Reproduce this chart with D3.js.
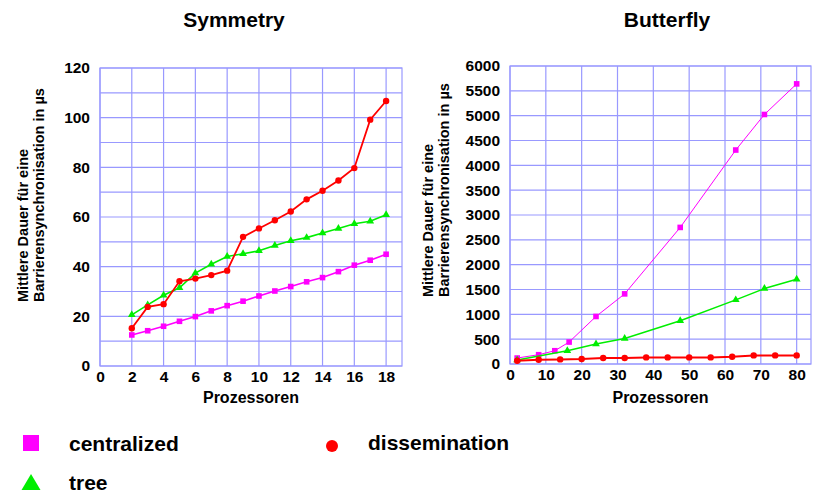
<!DOCTYPE html>
<html><head><meta charset="utf-8">
<script src="https://cdn.jsdelivr.net/npm/d3@7"></script>
<style>body{margin:0;background:#fff}svg{display:block}text{font-family:"Liberation Sans",Arial,sans-serif;font-weight:bold;fill:#000}</style>
</head><body>
<svg id="c" width="814" height="497"></svg>
<script>
// Symmetry data (x = processors)
const symX = [2,3,4,5,6,7,8,9,10,11,12,13,14,15,16,17,18];
const symCentralized = [12.5,14.2,16,18,19.9,22.2,24.3,26.1,28.2,30.2,32,33.9,35.6,38,40.6,42.6,45];
const symTree = [20.6,24.6,28.5,31.5,37.4,41,44.1,45.2,46.4,48.5,50.4,51.7,53.6,55.4,57.3,58.3,60.9];
const symDissemination = [15.2,23.8,24.9,34.1,35.2,36.6,38.4,52,55.4,58.7,62.2,67.1,70.6,74.7,79.7,99.2,106.7];
// Butterfly data
const bfCentralizedX = [2,8,12.5,16.5,24,32,47.5,63,71,80];
const bfCentralized = [120,187,267,442,957,1412,2750,4308,5024,5640];
const bfTreeX = [2,16,24,32,47.5,63,71,80];
const bfTree = [80,268,402,515,870,1291,1519,1706];
const bfDissX = [2,8,14,20,26,32,38,44,50,56,62,68,74,80];
const bfDiss = [66,86,93,100,120,120,133,133,133,133,147,173,173,173];
// ticks
const symXTicks = [0,2,4,6,8,10,12,14,16,18];
const symYTicks = [0,20,40,60,80,100,120];
const bfXTicks = [0,10,20,30,40,50,60,70,80];
const bfYTicks = [0,500,1000,1500,2000,2500,3000,3500,4000,4500,5000,5500,6000];

const svg = d3.select("#c");
const grid = "#9999ff";
const colors = {c:"#ff00ff", t:"#00ee00", d:"#ff0000"};
const FONT = "Liberation Sans, Arial, sans-serif";

function panel(o){
  const g = svg.append("g");
  const x = d3.scaleLinear().domain(o.xd).range([o.x0,o.x1]);
  const y = d3.scaleLinear().domain(o.yd).range([o.y1,o.y0]);
  g.selectAll(".vg").data(o.xGrid).join("line")
    .attr("x1",d=>x(d)).attr("x2",d=>x(d)).attr("y1",o.y0).attr("y2",o.y1)
    .attr("stroke",grid).attr("stroke-width",1.2);
  g.selectAll(".hg").data(o.yGrid).join("line")
    .attr("x1",o.x0).attr("x2",o.x1).attr("y1",d=>y(d)).attr("y2",d=>y(d))
    .attr("stroke",grid).attr("stroke-width",1.2);
  g.append("rect").attr("x",o.x0).attr("y",o.y0).attr("width",o.x1-o.x0).attr("height",o.y1-o.y0)
    .attr("fill","none").attr("stroke",grid).attr("stroke-width",1.2);
  const ax = g.append("g").attr("transform",`translate(0,${o.y1})`)
    .call(d3.axisBottom(x).tickValues(o.xTicks).tickSize(0).tickPadding(5).tickFormat(d3.format("d")));
  ax.select(".domain").remove();
  ax.selectAll("text").attr("font-size",15.5).attr("font-weight","bold").attr("fill","#000")
    .attr("font-family",FONT).attr("dy","0.71em");
  const ay = g.append("g").attr("transform",`translate(${o.x0},0)`)
    .call(d3.axisLeft(y).tickValues(o.yTicks).tickSize(0).tickPadding(o.yPad).tickFormat(d3.format("d")));
  ay.select(".domain").remove();
  ay.selectAll("text").attr("font-size",15.5).attr("font-weight","bold").attr("fill","#000")
    .attr("font-family",FONT);
  g.append("text").attr("x",o.titleX).attr("y",27).attr("text-anchor","middle").attr("font-size",21).text(o.title);
  g.append("text").attr("x",(o.x0+o.x1)/2).attr("y",403).attr("text-anchor","middle").attr("font-size",16).text("Prozessoren");
  const yl = g.append("text").attr("transform",`translate(${o.ylX},${o.ylY}) rotate(-90)`).attr("font-size",14.5);
  yl.append("tspan").attr("x",0).attr("dy",0).text("Mittlere Dauer für eine");
  yl.append("tspan").attr("x",0).attr("dy",16).text("Barrierensynchronisation in µs");
  const line = d3.line().x(d=>x(d[0])).y(d=>y(d[1]));
  o.series.forEach(s=>{
    const pts = s.xs.map((v,i)=>[v,s.ys[i]]);
    g.append("path").datum(pts).attr("d",line).attr("fill","none").attr("stroke",colors[s.k]).attr("stroke-width",s.w);
    const m = g.append("g").attr("fill",colors[s.k]);
    if(s.k==="c"){
      m.selectAll("rect").data(pts).join("rect").attr("x",d=>x(d[0])-2.8).attr("y",d=>y(d[1])-2.8).attr("width",5.6).attr("height",5.6);
    } else if(s.k==="d"){
      m.selectAll("circle").data(pts).join("circle").attr("cx",d=>x(d[0])).attr("cy",d=>y(d[1])).attr("r",3.2);
    } else {
      m.selectAll("path").data(pts).join("path").attr("d",d3.symbol(d3.symbolTriangle,26)()).attr("transform",d=>`translate(${x(d[0])},${y(d[1])})`);
    }
  });
}

panel({x0:100,x1:402,y0:68,y1:366,xd:[0,19],yd:[0,120],
  xGrid:symXTicks, yGrid:d3.range(0,121,10), xTicks:symXTicks, yTicks:symYTicks, yPad:10,
  title:"Symmetry", titleX:234, ylX:28, ylY:302,
  series:[{k:"c",xs:symX,ys:symCentralized,w:1.6},{k:"t",xs:symX,ys:symTree,w:1.6},{k:"d",xs:symX,ys:symDissemination,w:1.8}]});

panel({x0:510,x1:811,y0:66,y1:364,xd:[0,84],yd:[0,6000],
  xGrid:bfXTicks, yGrid:bfYTicks, xTicks:bfXTicks, yTicks:bfYTicks, yPad:10,
  title:"Butterfly", titleX:667, ylX:433, ylY:297,
  series:[{k:"c",xs:bfCentralizedX,ys:bfCentralized,w:1},{k:"t",xs:bfTreeX,ys:bfTree,w:1.5},{k:"d",xs:bfDissX,ys:bfDiss,w:2}]});

// legend
const leg = svg.append("g");
leg.append("rect").attr("x",23).attr("y",435).attr("width",16).attr("height",16).attr("fill",colors.c);
leg.append("text").attr("x",69).attr("y",451).attr("font-size",21).text("centralized");
leg.append("circle").attr("cx",332).attr("cy",446).attr("r",6).attr("fill",colors.d);
leg.append("text").attr("x",368).attr("y",450).attr("font-size",21).text("dissemination");
leg.append("path").attr("d","M31,474 L40.5,490 L21.5,490 Z").attr("fill",colors.t);
leg.append("text").attr("x",69).attr("y",490).attr("font-size",21).text("tree");
</script>
</body></html>
